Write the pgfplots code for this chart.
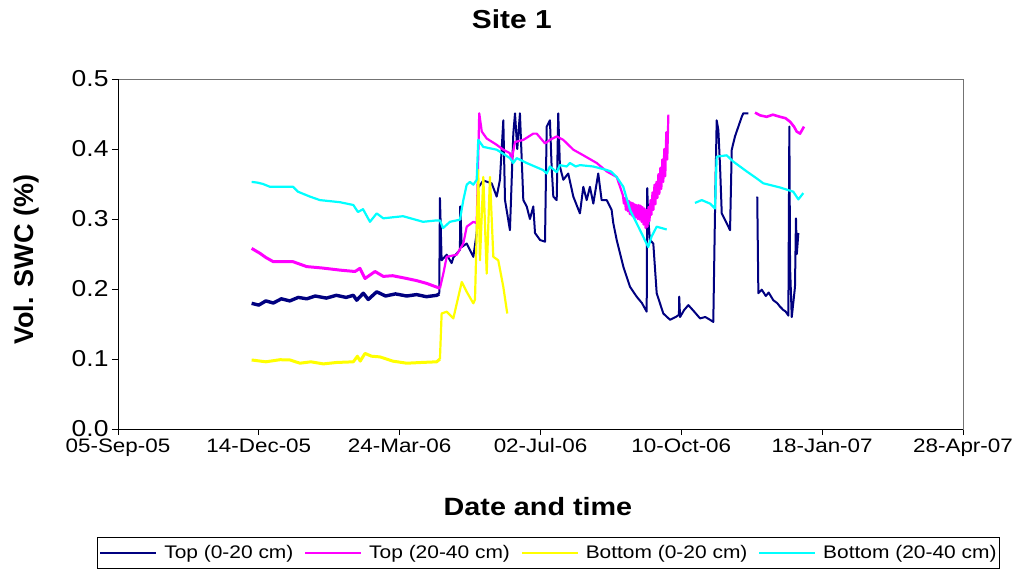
\documentclass[border=0pt]{standalone}
\usepackage{fontspec}
\setmainfont{Liberation Sans}[FakeStretch=1.15]
\newfontfamily\nostretch{Liberation Sans}
\usepackage{pgfplots}
\pgfplotsset{compat=1.18}
\definecolor{navyc}{HTML}{000080}
\definecolor{magc}{HTML}{FF00FF}
\definecolor{yelc}{HTML}{FFFF00}
\definecolor{cyac}{HTML}{00FFFF}
\begin{document}
\begin{tikzpicture}[x=1pt,y=1pt]
\begin{axis}[
  at={(0,0)}, anchor=south west,
  scale only axis, width=845pt, height=350pt,
  xmin=0, xmax=600, ymin=0, ymax=0.5,
  xtick={0,100,200,300,400,500,600},
  xticklabels={05-Sep-05,14-Dec-05,24-Mar-06,02-Jul-06,10-Oct-06,18-Jan-07,28-Apr-07},
  ytick={0,0.1,0.2,0.3,0.4,0.5},
  yticklabel style={/pgf/number format/fixed,/pgf/number format/fixed zerofill,/pgf/number format/precision=1,/pgf/number format/assume math mode=true,font=\fontsize{23}{25}\selectfont},
  xticklabel style={font=\fontsize{19.5}{21}\selectfont},
  tick align=outside, xtick pos=bottom, ytick pos=left,
  major tick length=6pt,
  every tick/.style={black, line width=0.8pt},
  axis line style={black!55, line width=0.8pt},
  title={Site 1},
  title style={font=\bfseries\fontsize{26}{28}\selectfont, at={(axis description cs:0.466,1.154)}, anchor=center},
  xlabel={Date and time},
  xlabel style={font=\bfseries\fontsize{25}{27}\selectfont, at={(axis description cs:0.497,-0.223)}, anchor=center},
  ylabel={Vol. SWC (\%)},
  ylabel style={font=\nostretch\bfseries\fontsize{27}{29}\selectfont, at={(axis description cs:-0.1077,0.483)}, anchor=center},
  legend columns=4,
  legend style={at={(axis description cs:0.5095,-0.3086)}, anchor=north, draw=black, line width=0.8pt,
    font=\fontsize{18.2}{20}\selectfont, inner xsep=2pt, inner ysep=6pt,
    nodes={inner xsep=1pt},
    /tikz/every odd column/.append style={column sep=6pt},
    /tikz/every even column/.append style={column sep=10pt}},
  legend image code/.code={\draw[#1, line width=1.8pt] (0pt,0pt) -- (56pt,0pt);},
  every axis plot/.append style={line join=round},
]
% Top (0-20 cm)
\addplot[navyc, line width=3.4pt] coordinates {
(94.9,0.1795) (100,0.177) (105,0.183) (110.3,0.180) (116,0.186) (122,0.183) (128,0.188) (134.0,0.186) (140,0.190) (148,0.187) (155,0.191) (162,0.188) (167.1,0.191) (169.5,0.184) (174.2,0.194) (177.7,0.185) (183.7,0.196) (190,0.190) (197,0.193) (205.0,0.190) (212,0.192) (219,0.189) (226.3,0.191) (228.1,0.193)
};
\addlegendentry{Top (0-20 cm)}
\addplot[navyc, line width=2pt, forget plot] coordinates {
(228.1,0.193) (228.6,0.330) (229.8,0.241) (233.4,0.249) (236.9,0.237) (238.1,0.245) (242.8,0.256) (243.0,0.318) (244.1,0.260) (247.6,0.265) (252.3,0.246) (254.7,0.280)
(255.8,0.345) (259.4,0.355) (265.3,0.351) (268.9,0.332) (271.2,0.356) (273.6,0.441) (274.8,0.327) (278.3,0.284) (280.7,0.422) (281.9,0.451) (283.5,0.400) (285.4,0.451) (287.8,0.327) (290.2,0.318) (292.5,0.300) (294.9,0.318) (296.1,0.280) (299.7,0.270) (303.2,0.2676)
(304.4,0.432) (306.7,0.441) (307.9,0.375) (309.1,0.332) (311.5,0.327) (312.6,0.451) (313.8,0.375) (316.2,0.356) (319.7,0.365) (323.3,0.332) (328.0,0.308) (330.4,0.346) (332.8,0.327) (335.1,0.346) (337.5,0.322) (341.0,0.365) (343.4,0.327) (347.0,0.327) (350.5,0.313) (351.7,0.294) (354.1,0.270) (358.8,0.232) (363.6,0.203) (368.3,0.189) (372,0.180) (375.4,0.1676)
(375.8,0.344) (376.5,0.300) (377.7,0.270) (380.1,0.265) (382.5,0.194) (387.2,0.165) (392.0,0.156) (396,0.160) (398.3,0.163) (398.5,0.189) (399.1,0.160) (402,0.170) (405.0,0.177) (409,0.168) (413.3,0.158) (417,0.160) (420.4,0.156) (422.7,0.153)
(423.9,0.308) (425.1,0.441) (426.3,0.427) (427.5,0.375) (428.7,0.308) (432.2,0.294) (434.6,0.284) (435.8,0.399) (438.1,0.418) (440.5,0.432) (442.9,0.446) (444.0,0.451) (447.6,0.451)
};
\addplot[navyc, line width=2pt, forget plot] coordinates {
(453.9,0.332) (454.7,0.194) (457.1,0.199) (460,0.190) (462,0.195) (465.3,0.184) (468,0.180) (470,0.175) (472.4,0.170) (474,0.168) (476.0,0.162) (476.7,0.432) (477.2,0.232) (478.4,0.160) (479.5,0.180) (480.7,0.203) (481.4,0.301) (482,0.250) (483.1,0.280)
};
% Top (20-40 cm)
\addplot[magc, line width=3pt] coordinates {
(94.9,0.258) (100.8,0.251) (105,0.245) (110.3,0.239) (124.3,0.239) (134.0,0.232) (145,0.230) (157.6,0.227) (168.3,0.225) (171.8,0.2295) (175.4,0.215) (182.5,0.225) (188.4,0.218) (195,0.219) (205.0,0.215) (212,0.212) (219.2,0.208) (228.6,0.201)
};
\addlegendentry{Top (20-40 cm)}
\addplot[magc, line width=2.2pt, forget plot] coordinates {
(228.6,0.201) (231.0,0.222) (233.4,0.246) (240.5,0.249) (245.2,0.265) (247.6,0.289) (252.3,0.296) (254.7,0.294)
(256.5,0.451) (258.3,0.425) (261.8,0.415) (268.9,0.406) (273.6,0.399) (278.3,0.394) (279.5,0.384) (281.9,0.410) (287.8,0.413) (294.9,0.422) (297.3,0.422) (303.2,0.408) (306.7,0.413) (311.5,0.418) (316.2,0.413) (323.3,0.399) (330.4,0.391) (339.9,0.380) (347.0,0.368) (354.1,0.360)
(358.5,0.334) (359.2,0.322) (359.9,0.330) (360.6,0.313) (361.3,0.328) (362.0,0.311) (362.7,0.326) (363.4,0.307) (364.1,0.324) (364.8,0.305) (365.5,0.323) (366.2,0.303) (366.9,0.321) (367.6,0.302) (368.3,0.320) (369.0,0.300) (369.7,0.320) (370.4,0.299) (371.1,0.319) (371.8,0.296) (372.5,0.317) (373.2,0.292) (373.9,0.315) (374.6,0.287) (375.3,0.313) (376.0,0.289) (376.7,0.317) (377.4,0.297) (378.1,0.327) (378.8,0.306) (379.5,0.338) (380.2,0.313) (380.9,0.349) (381.6,0.321) (382.3,0.353) (383.0,0.330) (383.7,0.364) (384.4,0.336) (385.1,0.373) (385.8,0.343) (386.5,0.385) (387.2,0.353) (387.9,0.400) (388.6,0.361) (389.3,0.424) (390.0,0.385) (390.8,0.449)
};
\addplot[magc, line width=2.6pt, forget plot] coordinates {
(452.3,0.452) (456,0.448) (460.6,0.446) (465,0.449) (470.1,0.446) (474,0.444) (477.2,0.439) (480,0.432) (481.9,0.425) (484.3,0.422) (487.1,0.432)
};
% Bottom (0-20 cm)
\addplot[yelc, line width=3pt] coordinates {
(94.9,0.0986) (105,0.096) (115,0.099) (122.1,0.0986) (129.2,0.094) (137,0.096) (145.8,0.093) (155,0.095) (167.1,0.096) (170,0.104) (172,0.097) (175.4,0.108) (180,0.104) (186.0,0.103) (195,0.097) (205.0,0.094) (215,0.095) (226.3,0.096) (228.6,0.100)
};
\addlegendentry{Bottom (0-20 cm)}
\addplot[yelc, line width=2.2pt, forget plot] coordinates {
(228.6,0.100) (229.8,0.165) (233.4,0.1676) (238.1,0.158) (244.1,0.210) (247.6,0.196) (252.3,0.1795) (253.5,0.185) (255.8,0.370) (257.0,0.241) (259.4,0.360) (261.8,0.222) (264.1,0.360) (266.5,0.246) (270.0,0.241) (273.6,0.203) (276.4,0.165)
};
% Bottom (20-40 cm)
\addplot[cyac, line width=2.2pt] coordinates {
(94.9,0.353) (99,0.352) (103,0.350) (107.9,0.346) (124.3,0.346) (127.8,0.339) (136.3,0.332) (143.4,0.327) (157.6,0.324) (167.1,0.320) (170.4,0.310) (174.0,0.314) (178.9,0.296) (183.7,0.308) (188.4,0.301) (202.4,0.304) (216.6,0.296) (226.3,0.298) (228.6,0.298) (230.8,0.287) (235.7,0.296) (242.8,0.299) (245.2,0.327) (247.6,0.349) (249.9,0.353) (252.3,0.349) (254.7,0.356)
(255.8,0.413) (259.4,0.403) (268.9,0.399) (278.3,0.387) (280.7,0.380) (283.1,0.387) (290.2,0.380) (301.8,0.370) (304.4,0.365) (306.7,0.375) (311.5,0.367) (313.8,0.377) (318.6,0.375) (320.9,0.380) (325,0.375) (328.0,0.377) (337.5,0.375) (347.0,0.370) (350,0.368) (354.1,0.360) (358.8,0.346) (363.6,0.313) (370.7,0.284) (376.5,0.260) (378.9,0.275) (382.5,0.289) (386.1,0.287) (389.6,0.285)
};
\addlegendentry{Bottom (20-40 cm)}
\addplot[cyac, line width=2.2pt, forget plot] coordinates {
(409.7,0.323) (414.5,0.327) (420.4,0.322) (423.9,0.315) (425.1,0.389) (432.2,0.391) (436.9,0.382) (446.4,0.368) (453.5,0.358) (458.2,0.351) (470.1,0.345) (479.5,0.339) (483.1,0.328) (486.6,0.337)
};
\draw[black, line width=0.8pt] (rel axis cs:0,1) -- (rel axis cs:0,0) -- (rel axis cs:1,0);
\end{axis}
\pgfresetboundingbox
\useasboundingbox (-118,-150) rectangle (900,429);
\end{tikzpicture}
\end{document}
